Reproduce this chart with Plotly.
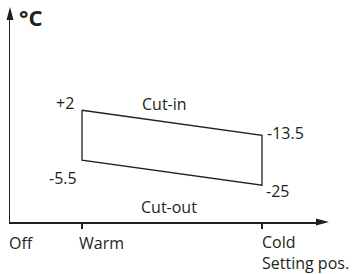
import plotly.graph_objects as go

# ---- data (read from the schematic) ----
settings = ["Off", "Warm", "Cold"]
setting_pos = [0, 2, 7]          # dial positions of Off / Warm / Cold
cut_in = [2, -13.5]              # °C at Warm, Cold
cut_out = [-5.5, -25]            # °C at Warm, Cold
bands = ["Cut-in", "Cut-out"]
y_unit = "°C"
x_title = "Setting pos."

INK = "#231f20"
FONT = "Open Sans"


def fmt(v):
    return f"+{v:g}" if v > 0 else f"{v:g}"


# figure pixel geometry helpers (for decorations only)
W, H = 355, 274
L, R, T, B = 10, 37, 19, 52
PW, PH = W - L - R, H - T - B


def pxx(p):
    return (p - L) / PW


def pxy(p):
    return (H - B - p) / PH


x_warm, x_cold = setting_pos[1], setting_pos[2]
poly_x = [x_warm, x_cold, x_cold, x_warm, x_warm]
poly_y = [fmt(cut_in[0]), fmt(cut_in[1]), fmt(cut_out[1]), fmt(cut_out[0]), fmt(cut_in[0])]
# schematic ordering of the drawn levels (bottom to top)
level_order = [fmt(cut_out[1]), fmt(cut_out[0]), fmt(cut_in[1]), fmt(cut_in[0])]


def lvl(v):
    return level_order.index(fmt(v))


fig = go.Figure()
fig.add_trace(go.Scatter(
    x=poly_x, y=poly_y, mode="lines",
    line=dict(color=INK, width=1.3),
    hoverinfo="skip", showlegend=False,
))

ann = []
# temperature labels at the corners
ann.append(dict(x=x_warm, y=lvl(cut_in[0]), text=fmt(cut_in[0]), xanchor="right", yanchor="middle", xshift=-6, yshift=7))
ann.append(dict(x=x_warm, y=lvl(cut_out[0]), text=fmt(cut_out[0]), xanchor="right", yanchor="middle", xshift=-3, yshift=-18))
ann.append(dict(x=x_cold, y=lvl(cut_in[1]), text=fmt(cut_in[1]), xanchor="left", yanchor="middle", xshift=3, yshift=2))
ann.append(dict(x=x_cold, y=lvl(cut_out[1]), text=fmt(cut_out[1]), xanchor="left", yanchor="middle", xshift=2, yshift=-6))
# band names
ann.append(dict(x=(164 - L) / 36, y=pxy(104), yref="paper", text=bands[0], xanchor="center", yanchor="middle"))
ann.append(dict(x=(169 - L) / 36, y=pxy(207), yref="paper", text=bands[1], xanchor="center", yanchor="middle"))
# setting labels (the last one carries the axis title on a second line)
for i, (name, pos, sh) in enumerate(zip(settings, setting_pos, [-3, -5, -2])):
    if i == len(settings) - 1:
        ann.append(dict(x=pos, y=0, yref="paper", text=f"{name}<br>{x_title}", xanchor="left",
                        yanchor="middle", align="left", xshift=sh, yshift=-30.5))
    else:
        ann.append(dict(x=pos, y=0, yref="paper", text=name, xanchor="left", yanchor="middle",
                        xshift=sh, yshift=-21))
# unit
ann.append(dict(x=pxx(17), y=pxy(17), xref="paper", yref="paper", text=f"<b>{y_unit}</b>",
                xanchor="left", yanchor="middle", font=dict(size=22, color=INK, family=FONT)))

for a in ann:
    a.setdefault("showarrow", False)
    a.setdefault("font", dict(size=16, color=INK, family=FONT))
    a.setdefault("xref", "x")
    a.setdefault("yref", "y")

# arrowheads of the axes
def tri(pts):
    p = " L ".join(f"{pxx(x):.5f},{pxy(y):.5f}" for x, y in pts)
    return f"M {p} Z"

shapes = [
    dict(type="path", xref="paper", yref="paper", path=tri([(6.5, 20), (10, 7), (13.5, 20)]),
         fillcolor=INK, line=dict(width=0)),
    dict(type="path", xref="paper", yref="paper", path=tri([(316, 218.5), (329, 222), (316, 225.5)]),
         fillcolor=INK, line=dict(width=0)),
]

fig.update_layout(
    width=W, height=H,
    margin=dict(l=L, r=R, t=T, b=B, pad=0, autoexpand=False),
    paper_bgcolor="white", plot_bgcolor="white",
    annotations=ann, shapes=shapes,
    xaxis=dict(range=[0, PW / 36], showline=True, linecolor=INK, linewidth=1.5,
               ticks="outside", tickvals=[x_warm, x_cold], ticklen=5, tickwidth=1.3, tickcolor=INK,
               showticklabels=False, showgrid=False, zeroline=False, fixedrange=True, automargin=False),
    yaxis=dict(type="category", categoryorder="array", categoryarray=level_order,
               range=[-(H - B - 185.25) / 25, -(H - B - 185.25) / 25 + PH / 25],
               showline=True, linecolor=INK, linewidth=1.5, ticks="",
               showticklabels=False, showgrid=False, zeroline=False, fixedrange=True, automargin=False),
    showlegend=False,
)

fig.write_html(
    "out.html",
    config={"displayModeBar": False, "staticPlot": True},
    post_script="document.body.style.margin='0';document.body.style.overflow='hidden';",
)
